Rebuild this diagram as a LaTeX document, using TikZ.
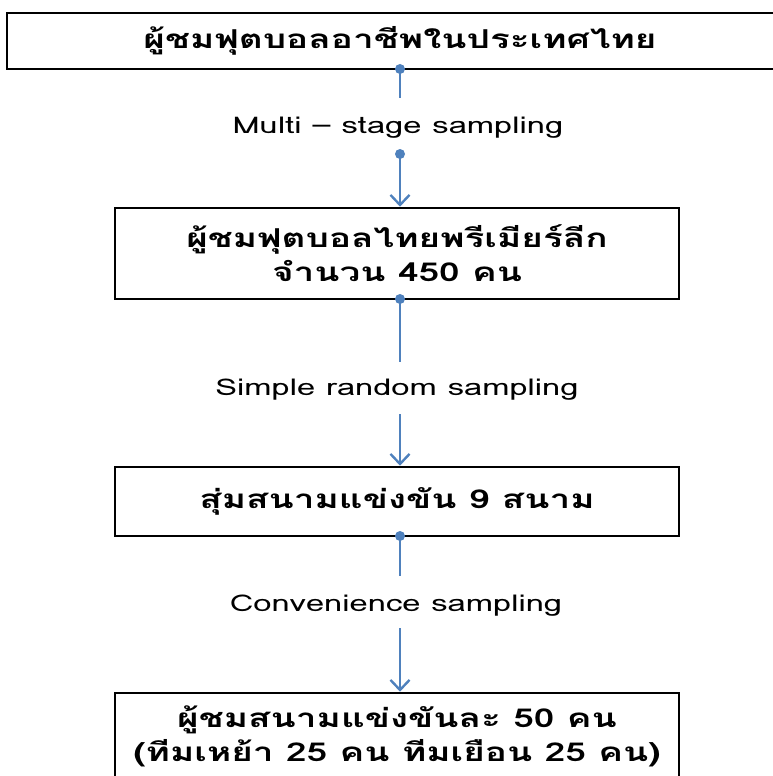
\documentclass[tikz,border=0pt]{standalone}
\usepackage{fontspec}
\newfontfamily\thaifont[Script=Thai,FakeStretch=1.42]{Loma}
\newfontfamily\lblfont[Script=Thai,FakeStretch=1.42]{Loma}
\usetikzlibrary{arrows.meta}
\definecolor{connblue}{HTML}{4F81BD}
\tikzset{
  box/.style={draw=black, line width=2.6pt, rectangle, inner sep=0pt, align=center,
    font=\thaifont\bfseries\fontsize{26}{34}\selectfont},
  lbl/.style={inner sep=0pt, font=\lblfont\fontsize{23}{26}\selectfont},
  conn/.style={draw=connblue, line width=2.6pt},
  arr/.style={conn, -{Straight Barb[length=10pt,width=19pt,line width=2.4pt]}},
  dot/.style={circle, fill=connblue, inner sep=0pt, minimum size=10pt}
}
\begin{document}
\begin{tikzpicture}[x=1pt,y=-1pt]
\useasboundingbox (0,0) rectangle (772,776);
\node[box, minimum width=786pt, minimum height=56pt] (b1) at (400,41) {ผู้ชมฟุตบอลอาชีพในประเทศไทย};
\node[box, minimum width=564pt, minimum height=91pt] (b2) at (397,253.5) {ผู้ชมฟุตบอลไทยพรีเมียร์ลีก\\จำนวน 450 คน};
\node[box, minimum width=564pt, minimum height=69pt] (b3) at (397,501.5) {สุ่มสนามแข่งขัน 9 สนาม};
\node[box, minimum width=564pt, minimum height=86pt] (b4) at (397,736) {ผู้ชมสนามแข่งขันละ 50 คน\\(ทีมเหย้า 25 คน ทีมเยือน 25 คน)};

\node[lbl] (l1) at (398,128) {Multi – stage sampling};
\node[lbl] (l2) at (397,390) {Simple random sampling};
\node[lbl] (l3) at (396,606) {Convenience sampling};

\coordinate (c1a) at (400,69);
\coordinate (c1b) at (400,98);
\coordinate (c1c) at (400,154);
\coordinate (c2a) at (400,299);
\coordinate (c2b) at (400,362);
\coordinate (c2c) at (400,414);
\coordinate (c3a) at (400,536);
\coordinate (c3b) at (400,576);
\coordinate (c3c) at (400,628);

\draw[conn] (c1a) -- (c1b);
\node[dot] (d1) at (c1a) {};
\draw[arr] (c1c) -- (b2.north -| c1c);
\node[dot] (d1c) at (c1c) {};

\draw[conn] (c2a) -- (c2b);
\node[dot] (d2) at (c2a) {};
\draw[arr] (c2c) -- (b3.north -| c2c);

\draw[conn] (c3a) -- (c3b);
\node[dot] (d3) at (c3a) {};
\draw[arr] (c3c) -- (b4.north -| c3c);
\end{tikzpicture}
\end{document}
